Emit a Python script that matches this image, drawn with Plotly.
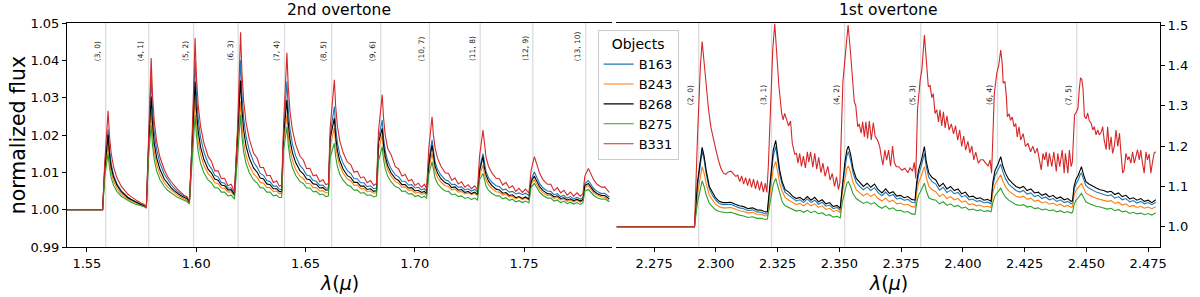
import plotly.graph_objects as go

# ---------------- 2nd overtone (left panel) ----------------
wl_2nd = [
    1.5409, 1.5572,
    1.5582, 1.5597, 1.5603, 1.5611, 1.5622, 1.5637, 1.5657, 1.5672, 1.5687, 1.5702, 1.5717, 1.5732, 1.5747, 1.5762, 1.5772,
    1.5783, 1.5794, 1.5800, 1.5808, 1.5819, 1.5834, 1.5854, 1.5869, 1.5884, 1.5899, 1.5914, 1.5929, 1.5944, 1.5959, 1.5969,
    1.5980, 1.5995, 1.6001, 1.6009, 1.6020, 1.6035, 1.6055, 1.6070, 1.6085, 1.6100, 1.6115, 1.6130, 1.6145, 1.6160, 1.6175,
    1.6190, 1.6203, 1.6209, 1.6217, 1.6228, 1.6243, 1.6263, 1.6278, 1.6293, 1.6308, 1.6323, 1.6338, 1.6353, 1.6368, 1.6380, 1.6391,
    1.6400, 1.6415, 1.6421, 1.6429, 1.6440, 1.6455, 1.6475, 1.6490, 1.6505, 1.6520, 1.6535, 1.6550, 1.6565, 1.6580, 1.6593, 1.6605,
    1.6613, 1.6632, 1.6638, 1.6646, 1.6657, 1.6672, 1.6692, 1.6707, 1.6722, 1.6737, 1.6752, 1.6767, 1.6782, 1.6797, 1.6812, 1.6825,
    1.6834, 1.6851, 1.6857, 1.6865, 1.6876, 1.6891, 1.6911, 1.6926, 1.6941, 1.6956, 1.6971, 1.6986, 1.7001, 1.7016, 1.7031, 1.7044, 1.7054,
    1.7064, 1.7079, 1.7085, 1.7093, 1.7104, 1.7119, 1.7139, 1.7154, 1.7169, 1.7184, 1.7199, 1.7214, 1.7229, 1.7244, 1.7259, 1.7274, 1.7287,
    1.7296, 1.7312, 1.7318, 1.7326, 1.7337, 1.7352, 1.7372, 1.7387, 1.7402, 1.7417, 1.7432, 1.7447, 1.7462, 1.7477, 1.7492, 1.7507, 1.7522,
    1.7532, 1.7547, 1.7553, 1.7561, 1.7572, 1.7587, 1.7607, 1.7622, 1.7637, 1.7652, 1.7667, 1.7682, 1.7697, 1.7712, 1.7727, 1.7742, 1.7757, 1.7769,
    1.7778, 1.7794, 1.7800, 1.7808, 1.7819, 1.7834, 1.7854, 1.7869, 1.7890,
]

flux_2nd_B163 = [
    1.0000, 1.0000,
    1.0120, 1.0215, 1.0163, 1.0123, 1.0093, 1.0070, 1.0051, 1.0042, 1.0034, 1.0028, 1.0023, 1.0019, 1.0014, 1.0011, 1.0005,
    1.0190, 1.0355, 1.0272, 1.0208, 1.0161, 1.0125, 1.0095, 1.0080, 1.0068, 1.0058, 1.0049, 1.0043, 1.0036, 1.0031, 1.0021,
    1.0160, 1.0400, 1.0311, 1.0244, 1.0194, 1.0155, 1.0123, 1.0110, 1.0092, 1.0088, 1.0073, 1.0071, 1.0058, 1.0058, 1.0042,
    1.0210, 1.0400, 1.0313, 1.0246, 1.0197, 1.0159, 1.0127, 1.0114, 1.0097, 1.0092, 1.0078, 1.0075, 1.0063, 1.0063, 1.0055, 1.0053,
    1.0210, 1.0343, 1.0271, 1.0216, 1.0176, 1.0144, 1.0118, 1.0108, 1.0093, 1.0090, 1.0078, 1.0076, 1.0065, 1.0066, 1.0058, 1.0058,
    1.0200, 1.0276, 1.0221, 1.0179, 1.0148, 1.0124, 1.0104, 1.0097, 1.0083, 1.0083, 1.0072, 1.0072, 1.0062, 1.0064, 1.0056, 1.0058,
    1.0190, 1.0240, 1.0193, 1.0157, 1.0131, 1.0110, 1.0093, 1.0088, 1.0076, 1.0076, 1.0066, 1.0067, 1.0058, 1.0060, 1.0053, 1.0056, 1.0050,
    1.0130, 1.0187, 1.0153, 1.0127, 1.0108, 1.0093, 1.0080, 1.0077, 1.0067, 1.0068, 1.0060, 1.0061, 1.0053, 1.0056, 1.0050, 1.0054, 1.0048,
    1.0110, 1.0150, 1.0123, 1.0102, 1.0086, 1.0074, 1.0064, 1.0062, 1.0053, 1.0055, 1.0047, 1.0049, 1.0042, 1.0045, 1.0040, 1.0044, 1.0038,
    1.0080, 1.0101, 1.0093, 1.0081, 1.0069, 1.0058, 1.0050, 1.0049, 1.0040, 1.0043, 1.0035, 1.0038, 1.0031, 1.0035, 1.0029, 1.0033, 1.0028, 1.0032,
    1.0070, 1.0078, 1.0072, 1.0065, 1.0056, 1.0049, 1.0043, 1.0044, 1.0034,
]

flux_2nd_B243 = [
    1.0000, 1.0000,
    1.0100, 1.0175, 1.0133, 1.0100, 1.0076, 1.0058, 1.0042, 1.0035, 1.0029, 1.0024, 1.0019, 1.0016, 1.0013, 1.0010, 1.0005,
    1.0170, 1.0265, 1.0203, 1.0156, 1.0122, 1.0095, 1.0072, 1.0061, 1.0053, 1.0045, 1.0039, 1.0034, 1.0029, 1.0025, 1.0018,
    1.0140, 1.0300, 1.0235, 1.0185, 1.0148, 1.0119, 1.0096, 1.0087, 1.0072, 1.0070, 1.0058, 1.0057, 1.0047, 1.0048, 1.0036,
    1.0180, 1.0290, 1.0228, 1.0180, 1.0145, 1.0118, 1.0095, 1.0087, 1.0073, 1.0071, 1.0059, 1.0059, 1.0048, 1.0050, 1.0043, 1.0043,
    1.0180, 1.0254, 1.0201, 1.0161, 1.0132, 1.0108, 1.0089, 1.0083, 1.0070, 1.0070, 1.0059, 1.0059, 1.0050, 1.0051, 1.0045, 1.0046,
    1.0170, 1.0220, 1.0176, 1.0142, 1.0117, 1.0098, 1.0082, 1.0077, 1.0065, 1.0066, 1.0056, 1.0057, 1.0048, 1.0050, 1.0044, 1.0046,
    1.0160, 1.0200, 1.0160, 1.0130, 1.0107, 1.0090, 1.0075, 1.0071, 1.0060, 1.0061, 1.0052, 1.0053, 1.0044, 1.0047, 1.0041, 1.0044, 1.0038,
    1.0110, 1.0150, 1.0123, 1.0102, 1.0086, 1.0074, 1.0064, 1.0062, 1.0053, 1.0055, 1.0047, 1.0049, 1.0042, 1.0045, 1.0040, 1.0044, 1.0038,
    1.0090, 1.0120, 1.0097, 1.0080, 1.0067, 1.0057, 1.0048, 1.0047, 1.0039, 1.0042, 1.0034, 1.0036, 1.0029, 1.0033, 1.0027, 1.0032, 1.0026,
    1.0070, 1.0080, 1.0073, 1.0064, 1.0054, 1.0045, 1.0038, 1.0038, 1.0030, 1.0033, 1.0026, 1.0029, 1.0022, 1.0026, 1.0021, 1.0025, 1.0020, 1.0024,
    1.0060, 1.0064, 1.0059, 1.0052, 1.0045, 1.0039, 1.0034, 1.0034, 1.0025,
]

flux_2nd_B268 = [
    1.0000, 1.0000,
    1.0110, 1.0200, 1.0151, 1.0114, 1.0087, 1.0066, 1.0048, 1.0039, 1.0032, 1.0027, 1.0022, 1.0018, 1.0014, 1.0011, 1.0005,
    1.0180, 1.0303, 1.0232, 1.0179, 1.0139, 1.0108, 1.0082, 1.0070, 1.0060, 1.0051, 1.0044, 1.0038, 1.0033, 1.0029, 1.0020,
    1.0150, 1.0343, 1.0268, 1.0211, 1.0168, 1.0135, 1.0108, 1.0098, 1.0082, 1.0079, 1.0066, 1.0064, 1.0053, 1.0053, 1.0040,
    1.0200, 1.0346, 1.0271, 1.0214, 1.0171, 1.0138, 1.0111, 1.0101, 1.0085, 1.0082, 1.0069, 1.0067, 1.0056, 1.0056, 1.0049, 1.0048,
    1.0200, 1.0294, 1.0233, 1.0187, 1.0153, 1.0126, 1.0104, 1.0096, 1.0082, 1.0080, 1.0069, 1.0068, 1.0058, 1.0059, 1.0052, 1.0053,
    1.0190, 1.0245, 1.0196, 1.0158, 1.0131, 1.0109, 1.0091, 1.0086, 1.0073, 1.0073, 1.0063, 1.0063, 1.0054, 1.0056, 1.0049, 1.0051,
    1.0180, 1.0218, 1.0175, 1.0142, 1.0118, 1.0099, 1.0083, 1.0078, 1.0067, 1.0067, 1.0058, 1.0059, 1.0050, 1.0052, 1.0046, 1.0049, 1.0043,
    1.0120, 1.0173, 1.0141, 1.0116, 1.0098, 1.0083, 1.0072, 1.0069, 1.0059, 1.0061, 1.0052, 1.0054, 1.0046, 1.0049, 1.0043, 1.0047, 1.0041,
    1.0102, 1.0142, 1.0114, 1.0093, 1.0077, 1.0065, 1.0055, 1.0053, 1.0044, 1.0046, 1.0038, 1.0040, 1.0032, 1.0035, 1.0030, 1.0034, 1.0028,
    1.0075, 1.0090, 1.0082, 1.0072, 1.0061, 1.0051, 1.0043, 1.0042, 1.0034, 1.0037, 1.0030, 1.0032, 1.0026, 1.0029, 1.0024, 1.0028, 1.0023, 1.0027,
    1.0065, 1.0070, 1.0065, 1.0057, 1.0050, 1.0043, 1.0038, 1.0038, 1.0029,
]

flux_2nd_B275 = [
    1.0000, 1.0000,
    1.0090, 1.0150, 1.0114, 1.0086, 1.0065, 1.0049, 1.0036, 1.0030, 1.0024, 1.0020, 1.0016, 1.0014, 1.0011, 1.0008, 1.0004,
    1.0150, 1.0227, 1.0174, 1.0134, 1.0104, 1.0081, 1.0062, 1.0052, 1.0045, 1.0038, 1.0033, 1.0029, 1.0025, 1.0021, 1.0015,
    1.0120, 1.0254, 1.0198, 1.0155, 1.0124, 1.0099, 1.0079, 1.0072, 1.0059, 1.0058, 1.0047, 1.0047, 1.0037, 1.0039, 1.0028,
    1.0150, 1.0254, 1.0198, 1.0155, 1.0124, 1.0099, 1.0079, 1.0072, 1.0059, 1.0058, 1.0047, 1.0047, 1.0037, 1.0039, 1.0032, 1.0033,
    1.0160, 1.0222, 1.0175, 1.0139, 1.0113, 1.0092, 1.0075, 1.0070, 1.0058, 1.0058, 1.0048, 1.0049, 1.0040, 1.0042, 1.0035, 1.0037,
    1.0140, 1.0178, 1.0142, 1.0115, 1.0095, 1.0079, 1.0066, 1.0062, 1.0052, 1.0053, 1.0044, 1.0046, 1.0038, 1.0040, 1.0034, 1.0037,
    1.0130, 1.0169, 1.0135, 1.0109, 1.0090, 1.0075, 1.0062, 1.0059, 1.0049, 1.0050, 1.0042, 1.0043, 1.0035, 1.0038, 1.0032, 1.0036, 1.0030,
    1.0095, 1.0128, 1.0103, 1.0084, 1.0070, 1.0059, 1.0050, 1.0049, 1.0040, 1.0042, 1.0035, 1.0037, 1.0030, 1.0033, 1.0027, 1.0031, 1.0026,
    1.0080, 1.0097, 1.0078, 1.0063, 1.0052, 1.0044, 1.0037, 1.0037, 1.0029, 1.0032, 1.0025, 1.0028, 1.0021, 1.0024, 1.0019, 1.0023, 1.0018,
    1.0060, 1.0070, 1.0064, 1.0055, 1.0046, 1.0038, 1.0031, 1.0031, 1.0023, 1.0026, 1.0019, 1.0023, 1.0016, 1.0020, 1.0015, 1.0019, 1.0014, 1.0018,
    1.0050, 1.0054, 1.0050, 1.0044, 1.0038, 1.0032, 1.0028, 1.0029, 1.0021,
]

flux_2nd_B331 = [
    1.0000, 1.0000,
    1.0130, 1.0265, 1.0200, 1.0151, 1.0115, 1.0086, 1.0063, 1.0051, 1.0042, 1.0035, 1.0028, 1.0023, 1.0018, 1.0014, 1.0006,
    1.0200, 1.0406, 1.0310, 1.0237, 1.0183, 1.0141, 1.0107, 1.0089, 1.0076, 1.0064, 1.0055, 1.0047, 1.0039, 1.0034, 1.0022,
    1.0170, 1.0460, 1.0358, 1.0281, 1.0223, 1.0179, 1.0142, 1.0129, 1.0104, 1.0104, 1.0083, 1.0084, 1.0064, 1.0068, 1.0047,
    1.0230, 1.0475, 1.0371, 1.0292, 1.0234, 1.0189, 1.0151, 1.0139, 1.0113, 1.0113, 1.0091, 1.0092, 1.0073, 1.0077, 1.0063, 1.0065,
    1.0230, 1.0420, 1.0331, 1.0264, 1.0214, 1.0175, 1.0143, 1.0133, 1.0110, 1.0111, 1.0091, 1.0093, 1.0075, 1.0080, 1.0067, 1.0070,
    1.0220, 1.0348, 1.0277, 1.0224, 1.0184, 1.0153, 1.0127, 1.0121, 1.0100, 1.0103, 1.0085, 1.0088, 1.0072, 1.0078, 1.0065, 1.0070,
    1.0210, 1.0308, 1.0246, 1.0199, 1.0164, 1.0148, 1.0115, 1.0109, 1.0090, 1.0094, 1.0077, 1.0081, 1.0065, 1.0071, 1.0060, 1.0068, 1.0056,
    1.0164, 1.0249, 1.0201, 1.0165, 1.0138, 1.0117, 1.0099, 1.0097, 1.0079, 1.0085, 1.0069, 1.0075, 1.0060, 1.0067, 1.0056, 1.0064, 1.0053,
    1.0142, 1.0213, 1.0172, 1.0140, 1.0117, 1.0099, 1.0084, 1.0083, 1.0066, 1.0073, 1.0058, 1.0064, 1.0049, 1.0057, 1.0046, 1.0055, 1.0044,
    1.0105, 1.0142, 1.0130, 1.0113, 1.0096, 1.0080, 1.0068, 1.0068, 1.0051, 1.0059, 1.0045, 1.0052, 1.0039, 1.0047, 1.0036, 1.0045, 1.0036, 1.0043,
    1.0090, 1.0110, 1.0102, 1.0090, 1.0079, 1.0068, 1.0060, 1.0061, 1.0046,
]

# ---------------- 1st overtone (right panel) ----------------
wl_1st = [
    2.2597, 2.2913,
    2.2925, 2.2937, 2.2944, 2.2952, 2.2960, 2.2973, 2.2985, 2.2998, 2.3013, 2.3028, 2.3043, 2.3060, 2.3078, 2.3095, 2.3112, 2.3130, 2.3148, 2.3166, 2.3184, 2.3200, 2.3208,
    2.3222, 2.3232, 2.3242, 2.3250, 2.3258, 2.3268, 2.3280, 2.3295, 2.3310, 2.3325, 2.3340, 2.3355, 2.3370, 2.3385, 2.3400, 2.3415, 2.3430, 2.3445, 2.3460, 2.3475, 2.3490, 2.3503,
    2.3512, 2.3522, 2.3530, 2.3536, 2.3545, 2.3555, 2.3568, 2.3582, 2.3597, 2.3612, 2.3627, 2.3642, 2.3657, 2.3672, 2.3687, 2.3702, 2.3717, 2.3732, 2.3747, 2.3762, 2.3777, 2.3792, 2.3806,
    2.3813, 2.3820, 2.3832, 2.3844, 2.3852, 2.3862, 2.3875, 2.3890, 2.3905, 2.3920, 2.3935, 2.3950, 2.3965, 2.3980, 2.3995, 2.4010, 2.4025, 2.4040, 2.4055, 2.4070, 2.4085, 2.4100, 2.4114,
    2.4121, 2.4130, 2.4142, 2.4153, 2.4162, 2.4172, 2.4185, 2.4200, 2.4215, 2.4230, 2.4245, 2.4260, 2.4275, 2.4290, 2.4305, 2.4320, 2.4335, 2.4350, 2.4365, 2.4380, 2.4395, 2.4410, 2.4425, 2.4438, 2.4444,
    2.4450, 2.4458, 2.4467, 2.4475, 2.4480, 2.4488, 2.4498, 2.4510, 2.4525, 2.4540, 2.4555, 2.4570, 2.4585, 2.4600, 2.4615, 2.4630, 2.4645, 2.4660, 2.4675, 2.4690, 2.4705, 2.4720, 2.4735, 2.4750, 2.4765, 2.4781,
]

flux_1st_B163 = [
    1.000, 1.000,
    1.100, 1.160, 1.187, 1.166, 1.133, 1.094, 1.079, 1.067, 1.058, 1.055, 1.055, 1.056, 1.051, 1.047, 1.045, 1.040, 1.042, 1.037, 1.036, 1.032, 1.033,
    1.120, 1.175, 1.199, 1.168, 1.130, 1.104, 1.085, 1.078, 1.070, 1.064, 1.067, 1.060, 1.069, 1.060, 1.066, 1.056, 1.061, 1.051, 1.054, 1.045, 1.048, 1.041,
    1.100, 1.148, 1.176, 1.186, 1.166, 1.134, 1.110, 1.100, 1.092, 1.099, 1.090, 1.097, 1.084, 1.077, 1.086, 1.076, 1.080, 1.069, 1.071, 1.066, 1.068, 1.061, 1.060,
    1.100, 1.128, 1.152, 1.182, 1.148, 1.122, 1.112, 1.106, 1.091, 1.098, 1.085, 1.091, 1.082, 1.085, 1.074, 1.078, 1.067, 1.069, 1.063, 1.065, 1.059, 1.061, 1.057,
    1.100, 1.126, 1.140, 1.155, 1.136, 1.120, 1.106, 1.097, 1.090, 1.086, 1.090, 1.081, 1.084, 1.075, 1.078, 1.070, 1.074, 1.067, 1.070, 1.063, 1.067, 1.060, 1.063, 1.057, 1.059,
    1.092, 1.107, 1.116, 1.130, 1.133, 1.118, 1.102, 1.096, 1.090, 1.086, 1.083, 1.080, 1.077, 1.079, 1.071, 1.075, 1.067, 1.070, 1.062, 1.065, 1.059, 1.063, 1.057, 1.060, 1.055, 1.061,
]

flux_1st_B243 = [
    1.000, 1.000,
    1.080, 1.130, 1.149, 1.133, 1.108, 1.078, 1.066, 1.056, 1.050, 1.047, 1.047, 1.048, 1.044, 1.040, 1.038, 1.034, 1.036, 1.031, 1.031, 1.027, 1.028,
    1.100, 1.145, 1.162, 1.138, 1.108, 1.088, 1.073, 1.066, 1.060, 1.055, 1.058, 1.052, 1.059, 1.052, 1.057, 1.048, 1.052, 1.043, 1.046, 1.038, 1.041, 1.035,
    1.085, 1.125, 1.145, 1.151, 1.135, 1.110, 1.092, 1.084, 1.077, 1.083, 1.075, 1.081, 1.070, 1.064, 1.071, 1.062, 1.066, 1.057, 1.059, 1.054, 1.056, 1.050, 1.049,
    1.085, 1.108, 1.128, 1.149, 1.122, 1.100, 1.092, 1.087, 1.075, 1.081, 1.070, 1.075, 1.067, 1.070, 1.061, 1.064, 1.055, 1.057, 1.052, 1.054, 1.049, 1.051, 1.048,
    1.085, 1.105, 1.117, 1.129, 1.113, 1.100, 1.089, 1.082, 1.076, 1.073, 1.076, 1.068, 1.071, 1.063, 1.066, 1.059, 1.062, 1.056, 1.059, 1.053, 1.056, 1.050, 1.053, 1.048, 1.050,
    1.078, 1.090, 1.097, 1.106, 1.108, 1.096, 1.084, 1.079, 1.074, 1.071, 1.068, 1.066, 1.063, 1.065, 1.058, 1.061, 1.054, 1.057, 1.050, 1.053, 1.048, 1.051, 1.046, 1.049, 1.045, 1.050,
]

flux_1st_B268 = [
    1.000, 1.000,
    1.110, 1.170, 1.197, 1.175, 1.141, 1.100, 1.085, 1.072, 1.063, 1.060, 1.060, 1.061, 1.056, 1.052, 1.050, 1.045, 1.047, 1.042, 1.041, 1.037, 1.038,
    1.130, 1.190, 1.214, 1.180, 1.140, 1.112, 1.092, 1.086, 1.076, 1.070, 1.073, 1.066, 1.075, 1.066, 1.073, 1.062, 1.067, 1.057, 1.060, 1.050, 1.053, 1.046,
    1.110, 1.160, 1.190, 1.200, 1.180, 1.145, 1.120, 1.110, 1.100, 1.108, 1.098, 1.106, 1.092, 1.084, 1.094, 1.083, 1.087, 1.076, 1.078, 1.072, 1.075, 1.068, 1.066,
    1.112, 1.140, 1.165, 1.199, 1.160, 1.133, 1.122, 1.116, 1.100, 1.108, 1.094, 1.100, 1.090, 1.094, 1.082, 1.086, 1.074, 1.076, 1.070, 1.072, 1.066, 1.068, 1.063,
    1.110, 1.140, 1.155, 1.174, 1.150, 1.133, 1.118, 1.108, 1.100, 1.096, 1.100, 1.090, 1.094, 1.084, 1.086, 1.078, 1.082, 1.074, 1.078, 1.070, 1.074, 1.067, 1.070, 1.063, 1.065,
    1.100, 1.118, 1.128, 1.145, 1.149, 1.130, 1.112, 1.106, 1.100, 1.096, 1.092, 1.090, 1.086, 1.088, 1.080, 1.084, 1.075, 1.078, 1.069, 1.072, 1.066, 1.070, 1.063, 1.066, 1.060, 1.067,
]

flux_1st_B275 = [
    1.000, 1.000,
    1.060, 1.100, 1.114, 1.100, 1.080, 1.058, 1.049, 1.042, 1.038, 1.036, 1.035, 1.036, 1.032, 1.029, 1.027, 1.023, 1.025, 1.021, 1.021, 1.018, 1.019,
    1.070, 1.105, 1.120, 1.102, 1.078, 1.062, 1.052, 1.047, 1.043, 1.039, 1.041, 1.036, 1.041, 1.035, 1.039, 1.032, 1.035, 1.028, 1.030, 1.024, 1.026, 1.022,
    1.062, 1.092, 1.108, 1.112, 1.100, 1.082, 1.070, 1.064, 1.058, 1.062, 1.056, 1.060, 1.051, 1.046, 1.052, 1.044, 1.047, 1.040, 1.041, 1.036, 1.038, 1.032, 1.031,
    1.060, 1.078, 1.092, 1.108, 1.088, 1.072, 1.068, 1.066, 1.057, 1.062, 1.053, 1.057, 1.050, 1.053, 1.046, 1.049, 1.042, 1.044, 1.040, 1.042, 1.038, 1.040, 1.037,
    1.060, 1.077, 1.086, 1.096, 1.084, 1.074, 1.066, 1.060, 1.055, 1.053, 1.055, 1.049, 1.051, 1.045, 1.047, 1.042, 1.044, 1.040, 1.042, 1.037, 1.040, 1.035, 1.038, 1.034, 1.036,
    1.055, 1.066, 1.072, 1.081, 1.083, 1.073, 1.062, 1.058, 1.054, 1.051, 1.049, 1.047, 1.044, 1.046, 1.040, 1.043, 1.037, 1.039, 1.033, 1.036, 1.032, 1.034, 1.030, 1.033, 1.029, 1.035,
]

# B331 in the 1st overtone is sampled more finely: (wavelength, flux) pairs
spec_1st_B331 = [
    (2.2597, 1.000), (2.2913, 1.000),
    (2.2925, 1.220), (2.2937, 1.400), (2.2944, 1.459), (2.2952, 1.405), (2.2960, 1.347), (2.2970, 1.290), (2.2980, 1.245),
    (2.2990, 1.215), (2.3000, 1.190), (2.3010, 1.165), (2.3020, 1.145), (2.3030, 1.133), (2.3040, 1.130), (2.3050, 1.136),
    (2.3060, 1.138), (2.3070, 1.132), (2.3080, 1.125), (2.3088, 1.128), (2.3096, 1.112), (2.3104, 1.126), (2.3112, 1.106),
    (2.3120, 1.122), (2.3128, 1.102), (2.3136, 1.120), (2.3144, 1.098), (2.3152, 1.118), (2.3160, 1.094), (2.3168, 1.115),
    (2.3176, 1.090), (2.3184, 1.112), (2.3192, 1.086), (2.3200, 1.108), (2.3206, 1.085),
    (2.3212, 1.150), (2.3222, 1.330), (2.3230, 1.440), (2.3238, 1.503), (2.3245, 1.430), (2.3255, 1.347), (2.3266, 1.281),
    (2.3272, 1.265), (2.3278, 1.281), (2.3286, 1.262), (2.3294, 1.250), (2.3302, 1.262), (2.3309, 1.207), (2.3319, 1.180),
    (2.3326, 1.182), (2.3332, 1.158), (2.3339, 1.182), (2.3346, 1.150), (2.3354, 1.175), (2.3362, 1.146), (2.3370, 1.186),
    (2.3376, 1.160), (2.3383, 1.186), (2.3392, 1.148), (2.3400, 1.182), (2.3408, 1.143), (2.3416, 1.172), (2.3425, 1.134),
    (2.3433, 1.158), (2.3442, 1.125), (2.3453, 1.150), (2.3462, 1.116), (2.3471, 1.132), (2.3480, 1.100), (2.3488, 1.124),
    (2.3496, 1.092), (2.3502, 1.110),
    (2.3506, 1.200), (2.3514, 1.360), (2.3520, 1.400), (2.3528, 1.460), (2.3535, 1.500), (2.3544, 1.438), (2.3554, 1.364),
    (2.3560, 1.310), (2.3566, 1.300), (2.3574, 1.248), (2.3580, 1.255), (2.3588, 1.232), (2.3594, 1.260), (2.3601, 1.223),
    (2.3607, 1.260), (2.3614, 1.219), (2.3621, 1.262), (2.3629, 1.215), (2.3637, 1.258), (2.3645, 1.223), (2.3654, 1.215),
    (2.3663, 1.199), (2.3669, 1.175), (2.3676, 1.153), (2.3684, 1.190), (2.3691, 1.165), (2.3699, 1.190), (2.3707, 1.150),
    (2.3715, 1.200), (2.3722, 1.160), (2.3730, 1.149), (2.3740, 1.149), (2.3753, 1.140), (2.3765, 1.145), (2.3777, 1.134),
    (2.3786, 1.146), (2.3796, 1.138), (2.3803, 1.160), (2.3809, 1.120),
    (2.3816, 1.290), (2.3827, 1.364), (2.3834, 1.390), (2.3844, 1.475), (2.3850, 1.422), (2.3860, 1.347), (2.3867, 1.350),
    (2.3874, 1.320), (2.3880, 1.330), (2.3887, 1.281), (2.3894, 1.290), (2.3901, 1.260), (2.3907, 1.290), (2.3914, 1.250),
    (2.3921, 1.285), (2.3928, 1.245), (2.3935, 1.275), (2.3944, 1.240), (2.3953, 1.255), (2.3962, 1.230), (2.3970, 1.250),
    (2.3979, 1.215), (2.3987, 1.240), (2.3995, 1.199), (2.4003, 1.225), (2.4011, 1.190), (2.4020, 1.212), (2.4028, 1.183),
    (2.4036, 1.200), (2.4044, 1.166), (2.4052, 1.185), (2.4062, 1.158), (2.4072, 1.166), (2.4082, 1.166), (2.4092, 1.158),
    (2.4102, 1.150), (2.4110, 1.166), (2.4116, 1.133),
    (2.4120, 1.200), (2.4127, 1.330), (2.4137, 1.380), (2.4145, 1.400), (2.4153, 1.438), (2.4159, 1.405), (2.4163, 1.356),
    (2.4170, 1.360), (2.4176, 1.322), (2.4180, 1.273), (2.4187, 1.280), (2.4193, 1.264), (2.4200, 1.272), (2.4207, 1.248),
    (2.4214, 1.256), (2.4220, 1.223), (2.4227, 1.248), (2.4234, 1.215), (2.4244, 1.231), (2.4253, 1.199), (2.4263, 1.207),
    (2.4274, 1.186), (2.4283, 1.200), (2.4292, 1.182), (2.4301, 1.195), (2.4310, 1.166), (2.4317, 1.141), (2.4324, 1.182),
    (2.4331, 1.166), (2.4337, 1.186), (2.4344, 1.149), (2.4350, 1.182), (2.4360, 1.149), (2.4368, 1.186), (2.4378, 1.137),
    (2.4384, 1.182), (2.4392, 1.149), (2.4402, 1.190), (2.4410, 1.133), (2.4415, 1.182), (2.4425, 1.133), (2.4431, 1.190),
    (2.4438, 1.149), (2.4443, 1.160),
    (2.4447, 1.220), (2.4452, 1.277), (2.4460, 1.285), (2.4466, 1.295), (2.4471, 1.340), (2.4476, 1.368), (2.4481, 1.366),
    (2.4486, 1.345), (2.4492, 1.273), (2.4499, 1.268), (2.4505, 1.282), (2.4512, 1.262), (2.4519, 1.257), (2.4526, 1.240),
    (2.4532, 1.248), (2.4539, 1.228), (2.4546, 1.240), (2.4552, 1.228), (2.4559, 1.233), (2.4566, 1.248), (2.4572, 1.215),
    (2.4580, 1.191), (2.4586, 1.248), (2.4593, 1.191), (2.4600, 1.223), (2.4606, 1.182), (2.4613, 1.199), (2.4620, 1.240),
    (2.4627, 1.199), (2.4634, 1.232), (2.4640, 1.182), (2.4647, 1.133), (2.4653, 1.141), (2.4660, 1.182), (2.4667, 1.166),
    (2.4673, 1.174), (2.4680, 1.158), (2.4687, 1.186), (2.4694, 1.158), (2.4700, 1.174), (2.4707, 1.191), (2.4714, 1.166),
    (2.4720, 1.190), (2.4727, 1.158), (2.4734, 1.133), (2.4741, 1.186), (2.4747, 1.166), (2.4754, 1.180), (2.4761, 1.133),
    (2.4767, 1.158), (2.4774, 1.182), (2.4781, 1.186),
]

# band heads and labels
heads_2nd = [1.5586, 1.5783, 1.5988, 1.6192, 1.6404, 1.6620, 1.6844, 1.7067, 1.7299, 1.7540, 1.7782]
labels_2nd = ["(3, 0)", "(4, 1)", "(5, 2)", "(6, 3)", "(7, 4)", "(8, 5)", "(9, 6)", "(10, 7)", "(11, 8)", "(12, 9)", "(13, 10)"]
heads_1st = [2.2930, 2.3225, 2.3521, 2.3829, 2.4140, 2.4461]
labels_1st = ["(2, 0)", "(3, 1)", "(4, 2)", "(5, 3)", "(6, 4)", "(7, 5)"]

objects = ["B163", "B243", "B268", "B275", "B331"]
colors = ["#1f77b4", "#ff7f0e", "#000000", "#2ca02c", "#d62728"]
left_flux = [flux_2nd_B163, flux_2nd_B243, flux_2nd_B268, flux_2nd_B275, flux_2nd_B331]
wl_1st_B331 = [p[0] for p in spec_1st_B331]
flux_1st_B331 = [p[1] for p in spec_1st_B331]
right_wl = [wl_1st, wl_1st, wl_1st, wl_1st, wl_1st_B331]
right_flux = [flux_1st_B163, flux_1st_B243, flux_1st_B268, flux_1st_B275, flux_1st_B331]

FONT = "DejaVu Sans"
fig = go.Figure()

for name, col, fl, wr, fr in zip(objects, colors, left_flux, right_wl, right_flux):
    fig.add_trace(go.Scatter(x=wl_2nd, y=fl, mode="lines", name=name, legendgroup=name,
                             showlegend=True, line=dict(color=col, width=1.1),
                             xaxis="x", yaxis="y"))
    fig.add_trace(go.Scatter(x=wr, y=fr, mode="lines", name=name, legendgroup=name,
                             showlegend=False, line=dict(color=col, width=1.1),
                             xaxis="x2", yaxis="y2"))

shapes = []
annotations = []
for h, lab in zip(heads_2nd, labels_2nd):
    shapes.append(dict(type="line", xref="x", yref="y domain", x0=h, x1=h, y0=0, y1=1,
                       line=dict(color="#dddddd", width=1.3), layer="below"))
    annotations.append(dict(x=h, y=1.0393, xref="x", yref="y", text=lab, textangle=-90,
                            xanchor="right", yanchor="bottom", showarrow=False, xshift=-1,
                            font=dict(family=FONT, size=7.5, color="#222222")))
for h, lab in zip(heads_1st, labels_1st):
    shapes.append(dict(type="line", xref="x2", yref="y2 domain", x0=h, x1=h, y0=0, y1=1,
                       line=dict(color="#dddddd", width=1.3), layer="below"))
    annotations.append(dict(x=h, y=1.297, xref="x2", yref="y2", text=lab, textangle=-90,
                            xanchor="right", yanchor="bottom", showarrow=False, xshift=-1,
                            font=dict(family=FONT, size=7.5, color="#222222")))

# titles
annotations += [
    dict(text="2nd overtone", x=0.2491, y=1.058, xref="paper", yref="paper", showarrow=False,
         xanchor="center", yanchor="middle", font=dict(family=FONT, size=15.5, color="black")),
    dict(text="1st overtone", x=0.7514, y=1.058, xref="paper", yref="paper", showarrow=False,
         xanchor="center", yanchor="middle", font=dict(family=FONT, size=15.5, color="black")),
    dict(text="<i>λ</i>(<i>μ</i>)", x=0.2491, y=-0.162, xref="paper", yref="paper", showarrow=False,
         xanchor="center", yanchor="middle", font=dict(family=FONT, size=19, color="black")),
    dict(text="<i>λ</i>(<i>μ</i>)", x=0.7514, y=-0.162, xref="paper", yref="paper", showarrow=False,
         xanchor="center", yanchor="middle", font=dict(family=FONT, size=19, color="black")),
    dict(text="normalized flux", x=-0.0445, y=0.5, xref="paper", yref="paper", showarrow=False,
         textangle=-90, xanchor="center", yanchor="middle", font=dict(family=FONT, size=20.5, color="black")),
]

axis_common = dict(showline=True, linecolor="black", linewidth=1, ticks="outside", ticklen=4,
                   tickcolor="black", tickwidth=1, showgrid=False, zeroline=False,
                   tickfont=dict(family=FONT, size=13, color="black"))

fig.update_layout(
    width=1200, height=297,
    margin=dict(l=67, r=33, t=23, b=50),
    paper_bgcolor="white", plot_bgcolor="white",
    font=dict(family=FONT, color="black"),
    xaxis=dict(domain=[0, 0.4982], range=[1.5409, 1.79], anchor="y", mirror=True,
               tickvals=[1.55, 1.60, 1.65, 1.70, 1.75], tickformat=".2f", **axis_common),
    yaxis=dict(domain=[0, 1], range=[0.99, 1.05], anchor="x",
               tickvals=[0.99, 1.00, 1.01, 1.02, 1.03, 1.04, 1.05], tickformat=".2f", **axis_common),
    xaxis2=dict(domain=[0.5027, 1], range=[2.2597, 2.4798], anchor="y2", mirror=True,
                tickvals=[2.275, 2.300, 2.325, 2.350, 2.375, 2.400, 2.425, 2.450, 2.475],
                tickformat=".3f", **axis_common),
    yaxis2=dict(domain=[0, 1], range=[0.95, 1.505], anchor="x2", side="right",
                tickvals=[1.0, 1.1, 1.2, 1.3, 1.4, 1.5], tickformat=".1f", **axis_common),
    legend=dict(x=0.4855, y=0.969, xanchor="left", yanchor="top",
                bgcolor="rgba(255,255,255,0.85)", bordercolor="#cccccc", borderwidth=1,
                font=dict(family=FONT, size=13, color="black"),
                title=dict(text="Objects", side="top center", font=dict(family=FONT, size=14)),
                tracegroupgap=0),
    shapes=shapes,
    annotations=annotations,
    showlegend=True,
)

# remove the default page margin so the 1200x297 figure fills the window exactly
fig.write_html("out.html",
               config={"displayModeBar": False},
               post_script="document.body.style.margin='0px';document.body.style.overflow='hidden';")
